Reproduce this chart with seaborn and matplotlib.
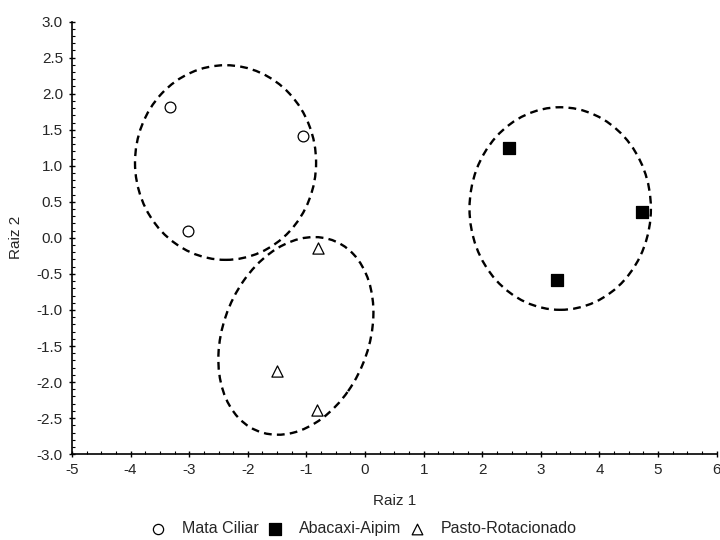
import matplotlib
matplotlib.use('Agg')
import numpy as np
import pandas as pd
import seaborn as sns
import matplotlib.pyplot as plt
from matplotlib.patches import Ellipse
from matplotlib.ticker import MultipleLocator, FormatStrFormatter

# group scores (Raiz 1, Raiz 2)
groups = ['Mata Ciliar', 'Abacaxi-Aipim', 'Pasto-Rotacionado']
mata_x = [-3.32, -1.06, -3.02]
mata_y = [1.82, 1.42, 0.09]
abac_x = [2.45, 4.73, 3.27]
abac_y = [1.24, 0.36, -0.59]
pasto_x = [-0.80, -1.51, -0.82]
pasto_y = [-0.14, -1.84, -2.39]

# ellipses: centre x, centre y, width, height, angle
ell_cx = [-2.38, 3.33, -1.18]
ell_cy = [1.045, 0.407, -1.36]
ell_w = [3.09, 3.095, 3.00]
ell_h = [2.70, 2.81, 2.35]
ell_ang = [0.0, 0.0, 49.3]

df = pd.DataFrame({
    'x': mata_x + abac_x + pasto_x,
    'y': mata_y + abac_y + pasto_y,
    'grupo': [groups[0]] * 3 + [groups[1]] * 3 + [groups[2]] * 3,
})

sns.set_style('ticks')
plt.rcParams['font.family'] = ['Liberation Sans', 'DejaVu Sans']
plt.rcParams['font.size'] = 11
plt.rcParams['axes.unicode_minus'] = False

fig = plt.figure(figsize=(7.2, 5.4), dpi=100)
ax = fig.add_axes([0.1, 0.159, 0.8954, 0.801])

marker_style = {
    'Mata Ciliar': dict(marker='o', color='white', s=60),
    'Abacaxi-Aipim': dict(marker='s', color='black', s=70),
    'Pasto-Rotacionado': dict(marker='^', color='white', s=65),
}
for g in groups:
    sub = df[df['grupo'] == g]
    sns.scatterplot(data=sub, x='x', y='y', ax=ax, label=g,
                    edgecolor='black', linewidth=0.9, zorder=3, **marker_style[g])

for cx, cy, w, h, a in zip(ell_cx, ell_cy, ell_w, ell_h, ell_ang):
    ax.add_patch(Ellipse((cx, cy), w, h, angle=a, fill=False,
                         edgecolor='black', linewidth=1.7, linestyle=(0, (3.3, 2.2)), zorder=2))

ax.set_xlim(-5, 6)
ax.set_ylim(-3, 3)
ax.xaxis.set_major_locator(MultipleLocator(1))
ax.xaxis.set_minor_locator(MultipleLocator(0.25))
ax.yaxis.set_major_locator(MultipleLocator(0.5))
ax.yaxis.set_minor_locator(MultipleLocator(0.1))
ax.yaxis.set_major_formatter(FormatStrFormatter('%.1f'))
ax.tick_params(which='major', direction='inout', length=5, width=1, labelsize=11, pad=4, color='black')
ax.tick_params(which='minor', direction='in', length=2.5, width=0.8, color='black')
for s in ['top', 'right']:
    ax.spines[s].set_visible(False)
for s in ['left', 'bottom']:
    ax.spines[s].set_linewidth(1.2)
    ax.spines[s].set_color('black')

ax.set_xlabel('Raiz 1', fontsize=11, labelpad=12)
ax.set_ylabel('Raiz 2', fontsize=11, labelpad=10)

handles, labels = ax.get_legend_handles_labels()
ax.get_legend().remove()
fig.legend(handles, labels, loc='lower center', bbox_to_anchor=(0.505, -0.02), ncol=3,
           frameon=False, fontsize=11.5, handletextpad=1.0, columnspacing=0.5,
           handlelength=1.0, markerscale=0.95)

fig.savefig('out.png', dpi=100)
